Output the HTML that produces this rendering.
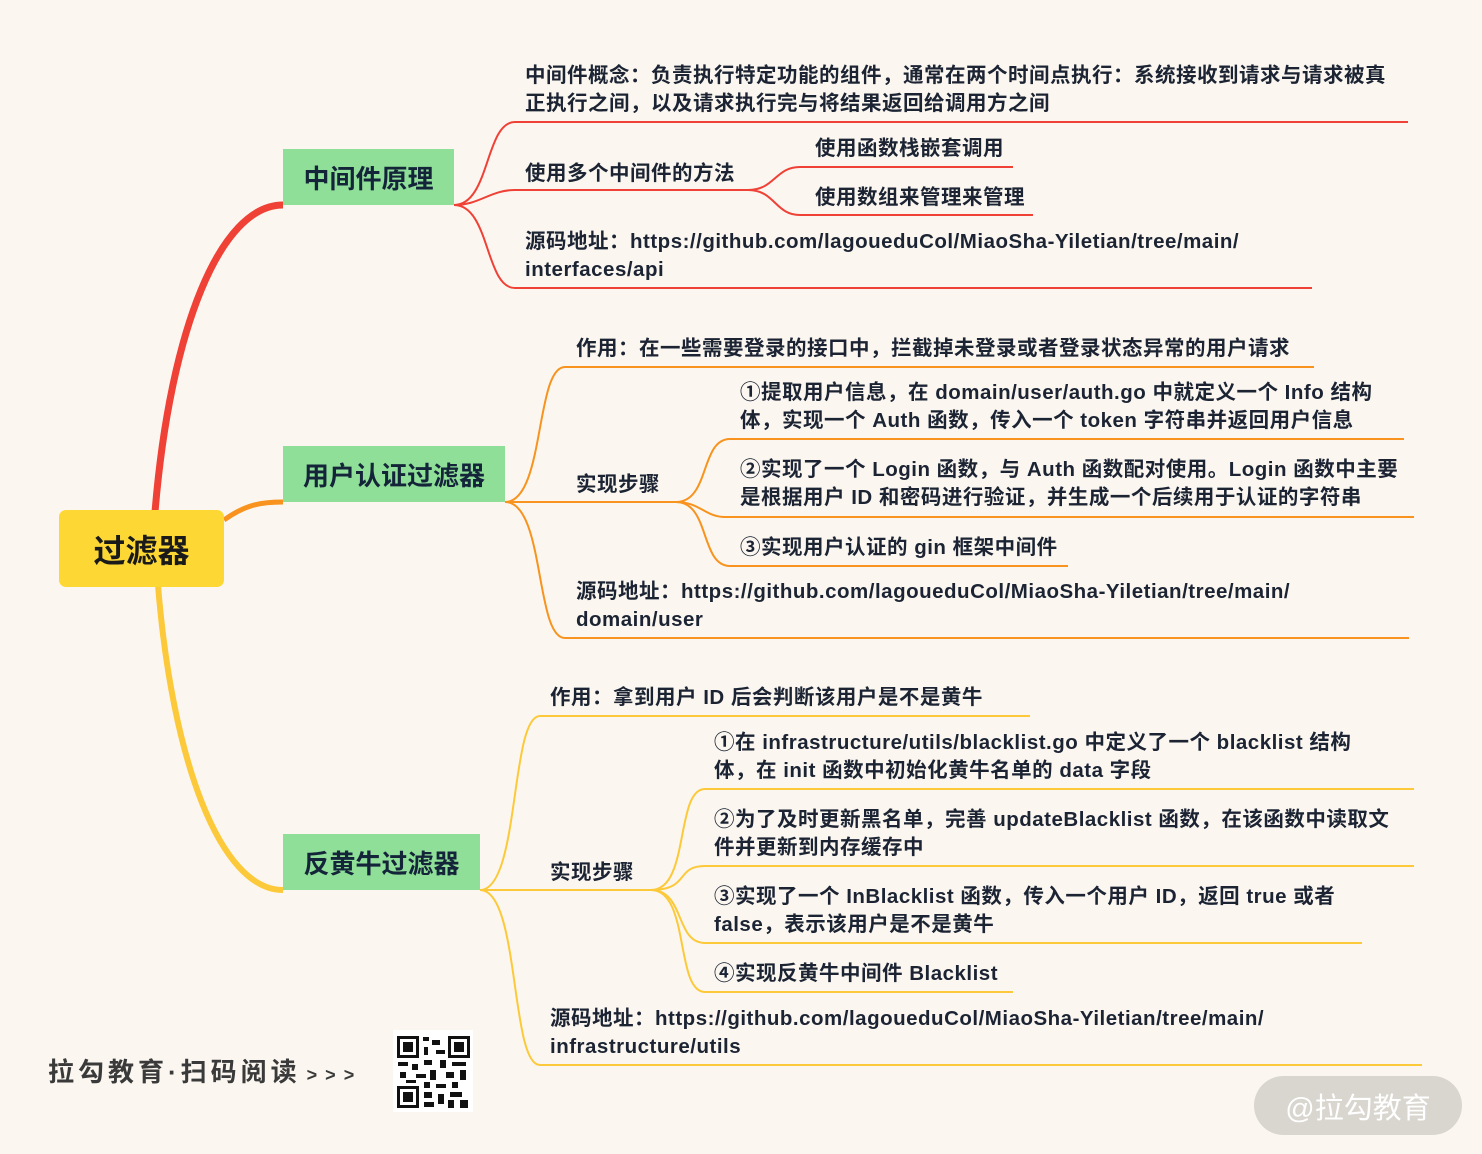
<!DOCTYPE html>
<html><head><meta charset="utf-8">
<style>
html,body{margin:0;padding:0}
body{width:1482px;height:1154px;background:#fbf7f0;position:relative;overflow:hidden;font-family:"Liberation Sans","Noto Sans CJK SC",sans-serif}
.t{position:absolute;font-size:20.5px;font-weight:bold;color:#1c2434;line-height:28px;white-space:nowrap;letter-spacing:0.5px;margin-top:2px}
.box{position:absolute;background:#8fdf98;color:#14253a;font-weight:bold;font-size:26px;display:flex;align-items:center;justify-content:center;font-family:"Liberation Sans","Noto Sans CJK SC",sans-serif}
</style></head><body>
<svg width="1482" height="1154" style="position:absolute;left:0;top:0" fill="none">
<path d="M155,512 C170,330 220,205 283,205" stroke="#ef4136" stroke-width="7"/>
<path d="M224,520 C245,505 260,502 283,502" stroke="#f7931e" stroke-width="5"/>
<path d="M158,585 C172,760 220,890 283,890" stroke="#fcc93a" stroke-width="6"/>
<g stroke="#ef4136" stroke-width="2">
<path d="M454,205 C490,205 485,122 515,122 L1408,122"/>
<path d="M454,205 C480,205 490,190 515,190 L752,190"/>
<path d="M454,205 C490,205 485,288 515,288 L1312,288"/>
<path d="M748,190 C775,190 775,167 800,167 L1013,167"/>
<path d="M748,190 C775,190 775,215 800,215 L1033,215"/>
</g>
<g stroke="#f7931e" stroke-width="2">
<path d="M505,502 C545,502 535,367 565,367 L1314,367"/>
<path d="M505,502 L680,502"/>
<path d="M505,502 C545,502 535,638 565,638 L1409,638"/>
<path d="M676,502 C710,502 700,439 730,439 L1404,439"/>
<path d="M676,502 C700,502 705,517 725,517 L1414,517"/>
<path d="M676,502 C710,502 700,566 730,566 L1068,566"/>
</g>
<g stroke="#fcc93a" stroke-width="2">
<path d="M480,890 C520,890 510,716 540,716 L1030,716"/>
<path d="M480,890 L655,890"/>
<path d="M480,890 C520,890 510,1065 540,1065 L1422,1065"/>
<path d="M651,890 C690,890 675,789 705,789 L1414,789"/>
<path d="M651,890 C690,890 675,866 705,866 L1414,866"/>
<path d="M651,890 C685,890 675,943 705,943 L1362,943"/>
<path d="M651,890 C690,890 675,992 705,992 L1013,992"/>
</g>
<rect x="393" y="1030" width="80" height="82" fill="#fff"/>
<g fill="#111">
<rect x="397" y="1036" width="22" height="22"/><rect x="400" y="1039" width="16" height="16" fill="#fff"/><rect x="403" y="1042" width="10" height="10"/>
<rect x="448" y="1036" width="22" height="22"/><rect x="451" y="1039" width="16" height="16" fill="#fff"/><rect x="454" y="1042" width="10" height="10"/>
<rect x="397" y="1086" width="22" height="22"/><rect x="400" y="1089" width="16" height="16" fill="#fff"/><rect x="403" y="1092" width="10" height="10"/>
<rect x="423" y="1037" width="6" height="4"/><rect x="432" y="1040" width="8" height="5"/><rect x="424" y="1047" width="4" height="8"/><rect x="436" y="1050" width="9" height="4"/>
<rect x="398" y="1062" width="10" height="4"/><rect x="412" y="1064" width="6" height="6"/><rect x="424" y="1060" width="8" height="5"/><rect x="440" y="1060" width="6" height="8"/><rect x="452" y="1062" width="14" height="4"/>
<rect x="400" y="1072" width="6" height="6"/><rect x="416" y="1074" width="10" height="4"/><rect x="430" y="1070" width="6" height="10"/><rect x="446" y="1072" width="8" height="6"/><rect x="460" y="1070" width="6" height="10"/>
<rect x="406" y="1080" width="10" height="3"/><rect x="424" y="1082" width="6" height="6"/><rect x="436" y="1084" width="10" height="4"/><rect x="452" y="1082" width="6" height="6"/>
<rect x="424" y="1092" width="8" height="6"/><rect x="438" y="1094" width="6" height="10"/><rect x="450" y="1092" width="12" height="5"/><rect x="424" y="1102" width="10" height="5"/><rect x="448" y="1100" width="6" height="8"/><rect x="460" y="1100" width="8" height="8"/>
</g>
</svg>
<div style="position:absolute;left:59px;top:510px;width:165px;height:77px;background:#fdd835;border-radius:7px;display:flex;align-items:center;justify-content:center;font-size:32px;font-weight:bold;color:#1a1a1a">过滤器</div>
<div class="box" style="left:283px;top:149px;width:171px;height:56px">中间件原理</div>
<div class="box" style="left:283px;top:446px;width:222px;height:56px">用户认证过滤器</div>
<div class="box" style="left:283px;top:834px;width:197px;height:56px">反黄牛过滤器</div>

<div class="t" style="left:525px;top:60px">中间件概念：负责执行特定功能的组件，通常在两个时间点执行：系统接收到请求与请求被真<br>正执行之间，以及请求执行完与将结果返回给调用方之间</div>
<div class="t" style="left:525px;top:158px">使用多个中间件的方法</div>
<div class="t" style="left:815px;top:133px">使用函数栈嵌套调用</div>
<div class="t" style="left:815px;top:182px">使用数组来管理来管理</div>
<div class="t" style="left:525px;top:226px">源码地址：https://github.com/lagoueduCol/MiaoSha-Yiletian/tree/main/<br>interfaces/api</div>

<div class="t" style="left:576px;top:333px">作用：在一些需要登录的接口中，拦截掉未登录或者登录状态异常的用户请求</div>
<div class="t" style="left:576px;top:469px">实现步骤</div>
<div class="t" style="left:740px;top:377px">①提取用户信息，在 domain/user/auth.go 中就定义一个 Info 结构<br>体，实现一个 Auth 函数，传入一个 token 字符串并返回用户信息</div>
<div class="t" style="left:740px;top:454px">②实现了一个 Login 函数，与 Auth 函数配对使用。Login 函数中主要<br>是根据用户 ID 和密码进行验证，并生成一个后续用于认证的字符串</div>
<div class="t" style="left:740px;top:532px">③实现用户认证的 gin 框架中间件</div>
<div class="t" style="left:576px;top:576px">源码地址：https://github.com/lagoueduCol/MiaoSha-Yiletian/tree/main/<br>domain/user</div>

<div class="t" style="left:550px;top:682px">作用：拿到用户 ID 后会判断该用户是不是黄牛</div>
<div class="t" style="left:550px;top:857px">实现步骤</div>
<div class="t" style="left:714px;top:727px">①在 infrastructure/utils/blacklist.go 中定义了一个 blacklist 结构<br>体，在 init 函数中初始化黄牛名单的 data 字段</div>
<div class="t" style="left:714px;top:804px">②为了及时更新黑名单，完善 updateBlacklist 函数，在该函数中读取文<br>件并更新到内存缓存中</div>
<div class="t" style="left:714px;top:881px">③实现了一个 InBlacklist 函数，传入一个用户 ID，返回 true 或者<br>false，表示该用户是不是黄牛</div>
<div class="t" style="left:714px;top:958px">④实现反黄牛中间件 Blacklist</div>
<div class="t" style="left:550px;top:1003px">源码地址：https://github.com/lagoueduCol/MiaoSha-Yiletian/tree/main/<br>infrastructure/utils</div>

<div style="position:absolute;left:48px;top:1052px;font-size:26px;font-weight:bold;color:#3a3a3a;letter-spacing:4px;white-space:nowrap">拉勾教育·扫码阅读<span style="font-size:18px;letter-spacing:8px;margin-left:6px">&gt;&gt;&gt;</span></div>
<div style="position:absolute;left:1254px;top:1076px;width:208px;height:59px;border-radius:30px;background:#d9d6cf;color:#fff;font-size:29px;display:flex;align-items:center;justify-content:center;white-space:nowrap">@拉勾教育</div>
</body></html>
